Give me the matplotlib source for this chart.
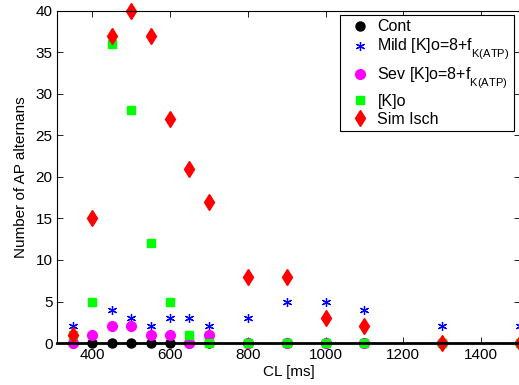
import matplotlib
matplotlib.use("Agg")
import matplotlib.pyplot as plt

try:
    import matplotlib._mathtext as mt
    mt.FontConstantsBase.sub1 = 0.8
except Exception:
    pass

plt.rcParams['font.family'] = ['Liberation Sans', 'DejaVu Sans']
plt.rcParams['mathtext.fontset'] = 'custom'
plt.rcParams['mathtext.rm'] = 'Liberation Sans'

cl = [350, 400, 450, 500, 550, 600, 650, 700, 800, 900, 1000, 1100, 1300, 1500]
cont = [0, 0, 0, 0, 0, 0, 0, 0, 0, 0, 0, 0, 0, 0]
mild = [2, 1, 4, 3, 2, 3, 3, 2, 3, 5, 5, 4, 2, 2]
sev = [0, 1, 2, 2, 1, 1, 0, 1, 0, 0, 0, 0, 0, 0]
ko = [1, 5, 36, 28, 12, 5, 1, 0, 0, 0, 0, 0, 0, 0]
sim_isch = [1, 15, 37, 40, 37, 27, 21, 17, 8, 8, 3, 2, 0, 0]

fig = plt.figure(figsize=(5.19, 3.85), dpi=100)
ax = fig.add_axes([0.1104, 0.109, 0.8913, 0.863])

ax.plot(cl, cont, linestyle='none', marker='o', color='black', markersize=6.5,
        clip_on=False, label='Cont')
ax.plot(cl, mild, linestyle='none', marker=(6, 2, 0), color='blue', markersize=6.5, mew=0.9,
        clip_on=False, label='Mild [K]o=8+f$_\\mathregular{K(ATP)}$')
ax.plot(cl, sev, linestyle='none', marker='o', color='magenta', markersize=7,
        clip_on=False, label='Sev [K]o=8+f$_\\mathregular{K(ATP)}$')
ax.plot(cl, ko, linestyle='none', marker='s', color='#00ff00', markersize=5.5,
        clip_on=False, label='[K]o')
ax.plot(cl, sim_isch, linestyle='none', marker='d', color='red', markersize=8.5,
        clip_on=False, label='Sim Isch')

ax.set_xlim(310, 1500)
ax.set_ylim(0, 40)
ax.set_xticks([400, 600, 800, 1000, 1200, 1400])
ax.set_yticks(range(0, 41, 5))
ax.tick_params(direction='in', top=True, right=True, labelsize=11, length=4.5, width=0.6)
for s in ax.spines.values():
    s.set_linewidth(0.8)
ax.spines['bottom'].set_linewidth(2)

ax.set_xlabel('CL [ms]', fontsize=11, labelpad=2)
ax.set_ylabel('Number of AP alternans', fontsize=11, labelpad=5)

leg = ax.legend(loc='upper right', bbox_to_anchor=(0.987, 0.987), fontsize=11.5, frameon=True,
                fancybox=False, edgecolor='black', borderpad=0.25, handletextpad=0.1,
                handlelength=2.0, labelspacing=0.2, borderaxespad=0, framealpha=1)
leg.get_frame().set_linewidth(0.8)
leg.set_zorder(5)

fig.savefig('out.png', dpi=100)
